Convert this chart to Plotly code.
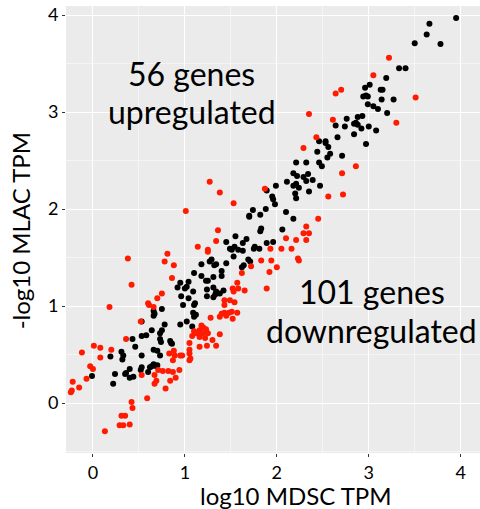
import plotly.graph_objects as go

# Not-significant genes (black)
black_x = [3.95,3.66,3.63,3.50,3.78,3.33,3.40,3.19,3.01,2.96,3.13,3.15,2.94,2.99,2.97,3.14,3.27,2.99,3.05,3.10,3.20,2.93,2.88,2.76,2.86,2.88,2.84,2.64,2.74,2.92,3.00,3.08,2.84,2.66,2.46,2.53,2.53,2.97,2.56,2.44,2.58,2.71,2.55,
           2.21,2.32,2.46,2.49,2.18,2.22,2.29,2.34,2.32,2.39,2.11,2.21,2.18,2.24,1.99,2.47,1.89,2.20,2.35,1.95,1.96,2.21,1.98,1.74,1.88,2.10,1.70,1.70,1.82,2.18,1.83,1.82,2.06,1.55,1.45,1.67,1.63,1.89,1.96,1.54,1.58,1.51,1.49,1.63,1.76,1.81,1.75,1.53,1.69,1.71,1.29,1.27,1.18,1.34,1.32,1.45,1.64,1.62,1.10,1.40,1.18,1.25,1.23,1.31,1.40,0.95,1.04,0.92,1.02,1.00,1.31,1.34,1.33,1.38,1.42,1.24,1.09,0.96,1.04,1.24,1.31,
           0.98,1.11,1.10,0.66,0.67,0.75,1.09,1.12,1.10,0.66,0.53,1.02,0.78,0.95,1.08,0.64,0.75,0.73,0.53,0.58,0.43,0.73,0.74,0.84,0.86,0.85,0.46,0.66,0.70,0.31,0.33,0.32,0.19,0.53,0.73,0.66,0.69,0.62,0.70,0.64,0.53,0.52,0.40,0.36,0.35,0.24,0.60,-0.01,0.40,0.44,0.22]
black_y = [3.97,3.91,3.80,3.71,3.70,3.45,3.45,3.35,3.28,3.25,3.23,3.23,3.16,3.16,3.17,3.13,3.13,3.08,3.06,3.03,2.99,2.96,2.95,2.93,2.89,2.87,2.88,2.86,2.85,2.83,2.85,2.81,2.77,2.74,2.70,2.70,2.68,2.67,2.64,2.59,2.57,2.55,2.53,
           2.48,2.48,2.48,2.44,2.37,2.34,2.33,2.36,2.29,2.30,2.28,2.26,2.24,2.22,2.24,2.24,2.19,2.16,2.18,2.13,2.10,2.11,2.05,1.99,2.00,1.97,1.93,1.92,1.94,1.90,1.80,1.77,1.79,1.72,1.66,1.69,1.65,1.65,1.66,1.61,1.58,1.58,1.59,1.57,1.61,1.59,1.59,1.51,1.48,1.46,1.48,1.46,1.43,1.43,1.42,1.44,1.42,1.40,1.34,1.36,1.31,1.26,1.26,1.30,1.31,1.24,1.25,1.19,1.20,1.18,1.19,1.15,1.12,1.13,1.16,1.17,1.15,1.10,1.08,1.10,1.09,
           1.01,1.03,1.01,0.95,0.92,0.97,0.93,0.91,0.89,0.90,0.84,0.84,0.81,0.81,0.79,0.75,0.75,0.72,0.69,0.70,0.66,0.66,0.63,0.64,0.61,0.62,0.58,0.55,0.54,0.53,0.49,0.45,0.48,0.49,0.49,0.40,0.38,0.37,0.39,0.38,0.37,0.34,0.35,0.31,0.30,0.30,0.32,0.28,0.26,0.27,0.20]

# Upregulated genes (red, above diagonal)
up_x = [3.22,3.05,2.64,2.70,2.35,2.61,2.43,2.29,1.87,1.27,1.38,1.53,1.01,1.36,1.34,1.25,1.25,1.14,0.81,0.78,0.88,0.86,0.38,0.42,0.75,0.70,0.18,0.60,0.61,0.66,0.52,0.36,-0.12,0.01,0.08,0.20,0.08,-0.03,0.00,-0.07,-0.22,-0.15,-0.23,-0.24]
up_y = [3.56,3.38,3.19,3.23,2.98,2.92,2.74,2.63,2.21,2.28,2.17,2.06,1.98,1.78,1.67,1.58,1.56,1.61,1.54,1.46,1.42,1.29,1.49,1.22,1.13,1.08,0.99,1.03,1.01,0.99,0.84,0.66,0.52,0.59,0.57,0.55,0.47,0.38,0.35,0.25,0.22,0.16,0.13,0.11]

# Downregulated genes (red, below diagonal)
down_x = [3.51,3.30,2.86,2.71,2.72,2.56,2.45,2.32,2.29,2.35,2.32,2.21,2.10,2.05,2.16,1.93,2.23,2.24,1.94,1.83,2.00,1.72,1.92,1.89,1.52,1.58,1.65,1.53,1.57,1.62,1.43,
          0.53,0.67,0.71,0.76,0.82,0.87,0.94,0.90,0.84,0.69,0.67,0.79,0.59,0.42,0.43,0.31,0.35,0.29,0.33,0.40,0.13,0.83,0.88,0.89,0.87,0.95,1.05,1.05,1.05,1.06,1.05,0.97,
          1.16,1.24,1.34,1.30,1.16,1.22,1.08,1.10,1.16,1.20,1.23,1.25,1.19,1.13,1.18,1.28,1.38,1.38,1.40,1.45,1.43,1.43,1.48,1.51,1.57,1.52,1.49,1.54]
down_y = [3.15,2.89,2.44,2.37,2.15,2.13,1.90,1.82,1.75,1.75,1.68,1.68,1.70,1.59,1.59,1.59,1.49,1.47,1.47,1.47,1.40,1.41,1.35,1.18,1.18,1.18,1.16,1.15,1.24,1.34,1.06,
          0.29,0.29,0.34,0.33,0.33,0.32,0.34,0.26,0.23,0.23,0.20,0.15,0.05,0.01,-0.05,-0.13,-0.13,-0.23,-0.23,-0.22,-0.29,0.51,0.54,0.49,0.44,0.49,0.62,0.55,0.51,0.46,0.44,0.49,
          0.58,0.59,0.59,0.65,0.68,0.67,0.69,0.74,0.75,0.78,0.76,0.72,0.72,0.72,0.80,0.88,0.71,0.89,0.92,0.90,0.93,1.01,0.93,0.94,0.93,0.87,1.06,1.04]

x_ticks = [0, 1, 2, 3, 4]
y_ticks = [0, 1, 2, 3, 4]
x_title = "log10 MDSC TPM"
y_title = "-log10 MLAC TPM"
up_lines = ["56 genes", "upregulated"]
down_lines = ["101 genes", "downregulated"]

FONT = "Lato"
fig = go.Figure()
fig.add_trace(go.Scatter(x=black_x, y=black_y, mode="markers",
                         marker=dict(color="black", size=6), showlegend=False))
fig.add_trace(go.Scatter(x=up_x + down_x, y=up_y + down_y, mode="markers",
                         marker=dict(color="#ff1a00", size=6), showlegend=False))

axis_common = dict(showgrid=True, gridcolor="white", gridwidth=1.3, zeroline=False,
                   ticks="outside", ticklen=3, tickcolor="#333333", tickwidth=1,
                   tickfont=dict(family=FONT, size=18, color="black"), showline=False,
                   automargin=False,
                   minor=dict(dtick=0.5, showgrid=True, gridcolor="#f5f5f5", gridwidth=0.7, ticks=""))
fig.update_xaxes(range=[-0.293, 4.21], tickvals=x_ticks, **axis_common)
fig.update_yaxes(range=[-0.515, 4.093], tickvals=y_ticks, **axis_common)

ann_font = dict(family=FONT, size=32, color="black")
fig.add_annotation(x=1.076, y=3.40, text=up_lines[0], showarrow=False, font=ann_font)
fig.add_annotation(x=1.076, y=3.01, text=up_lines[1], showarrow=False, font=ann_font)
fig.add_annotation(x=3.03, y=1.15, text=down_lines[0], showarrow=False, font=ann_font)
fig.add_annotation(x=3.03, y=0.75, text=down_lines[1], showarrow=False, font=ann_font)
fig.add_annotation(xref="paper", yref="paper", x=0.556, y=-0.095, text=x_title,
                   showarrow=False, yanchor="middle", font=dict(family=FONT, size=24, color="black"))
fig.add_annotation(xref="paper", yref="paper", x=-0.11, y=0.497, text=y_title, textangle=-90,
                   showarrow=False, xanchor="center", yanchor="middle",
                   font=dict(family=FONT, size=24, color="black"))

fig.update_layout(width=480, height=509, margin=dict(l=66, r=0, t=6, b=56),
                  plot_bgcolor="#EBEBEB", paper_bgcolor="white")
fig.write_html("out.html", post_script="document.body.style.margin='0';",
               config={"displayModeBar": False})
